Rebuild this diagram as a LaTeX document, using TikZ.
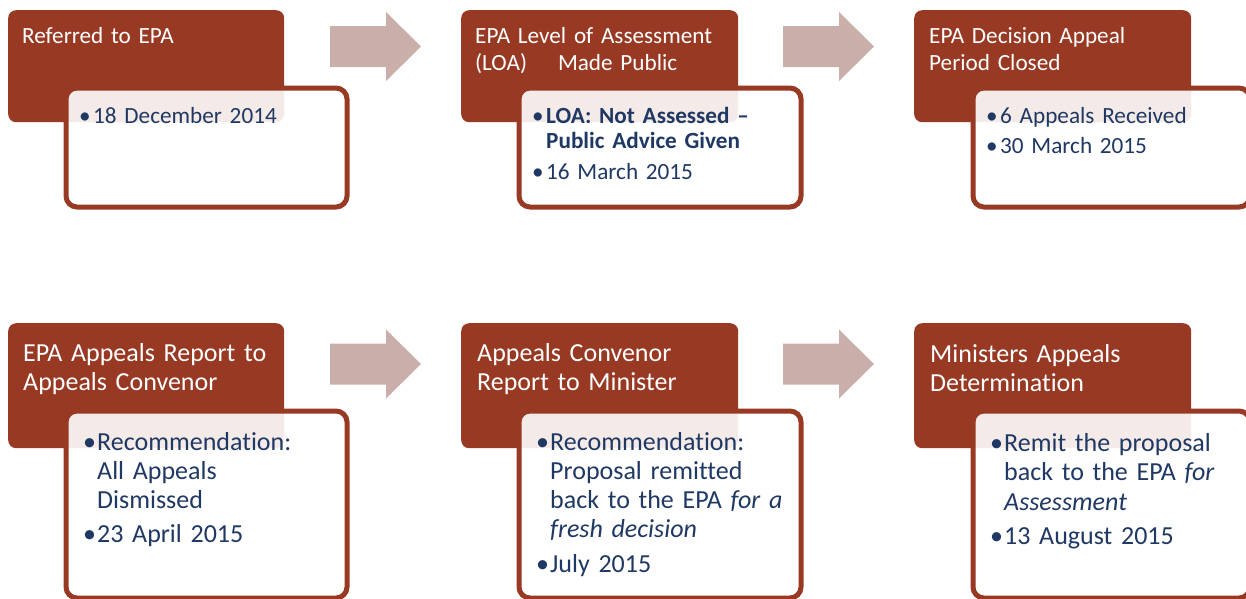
\documentclass[tikz,border=0pt]{standalone}
\usepackage{fontspec}
\setmainfont{Carlito}[Ligatures={NoCommon}]
\definecolor{brick}{RGB}{152,57,36}
\definecolor{flowpink}{RGB}{201,174,169}
\definecolor{navy}{RGB}{31,56,100}
% bullet with a fixed hanging width, and the matching indent for wrapped lines
\newcommand\bul{\makebox[14pt][l]{\textbullet}}
\newcommand\hang{\hspace*{14pt}}
\begin{document}
\begin{tikzpicture}[x=1pt,y=-1pt,
  hdrbox/.style={fill=brick, rounded corners=8pt, inner sep=0, anchor=north west},
  detbox/.style={draw=brick, line width=5pt, fill=white, fill opacity=0.9, draw opacity=1,
                 rounded corners=11pt, inner sep=0, anchor=north west},
  hdrtop/.style={anchor=base west, inner sep=0, text=white, align=left, text width=270pt,
                 font=\fontsize{23.2}{27}\selectfont},
  hdrbot/.style={anchor=base west, inner sep=0, text=white, align=left, text width=270pt,
                 font=\fontsize{26}{29}\selectfont},
  bodytop/.style={anchor=base west, inner sep=0, text=navy, align=left, text width=270pt,
                 font=\fontsize{23.2}{25.6}\selectfont},
  bodybot/.style={anchor=base west, inner sep=0, text=navy, align=left, text width=270pt,
                 font=\fontsize{26}{29.3}\selectfont},
  blockarrow/.pic={\fill[flowpink] (0,-20.5) -- (56,-20.5) -- (56,-34.5) -- (91,0)
                     -- (56,34.5) -- (56,20.5) -- (0,20.5) -- cycle;}
]
\useasboundingbox (0,0) rectangle (1246,598);
\clip (0,0) rectangle (1246,598);

% ---------- first row ----------
\node[hdrbox, minimum width=276pt, minimum height=112pt] (h1) at (8,10) {};
\node[hdrbox, minimum width=277pt, minimum height=112pt] (h2) at (461,10) {};
\node[hdrbox, minimum width=277pt, minimum height=112pt] (h3) at (914,10) {};

\node[detbox, minimum width=281pt, minimum height=119pt] (d1) at (63.5,85.5) {};
\node[detbox, minimum width=282pt, minimum height=119pt] (d2) at (516.5,85.5) {};
\node[detbox, minimum width=277pt, minimum height=119pt] (d3) at (970.5,85.5) {};

\node[hdrtop] (t1) at (22,43) {Referred to EPA};
\node[hdrtop] (t2) at (475,43) {EPA Level of Assessment\\(LOA)\hspace*{31pt}Made Public};
\node[hdrtop] (t3) at (929,43) {EPA Decision Appeal\\Period Closed};

\node[bodytop] (b1) at (79,123) {\bul 18 December 2014};
\node[bodytop] (b2) at (532,123) {\bul\textbf{LOA: Not Assessed –}\\\hang\textbf{Public Advice Given}\\[5pt]\bul 16 March 2015};
\node[bodytop] (b3) at (986,123) {\bul 6 Appeals Received\\[5pt]\bul 30 March 2015};

\pic at (330,46.5) {blockarrow};
\pic at (783,46.5) {blockarrow};

% ---------- second row ----------
\node[hdrbox, minimum width=276pt, minimum height=125pt] (h4) at (8,323) {};
\node[hdrbox, minimum width=277pt, minimum height=125pt] (h5) at (461,323) {};
\node[hdrbox, minimum width=277pt, minimum height=125pt] (h6) at (914,323) {};

\node[detbox, minimum width=281pt, minimum height=187pt] (d4) at (63.5,408.5) {};
\node[detbox, minimum width=282pt, minimum height=187pt] (d5) at (516.5,408.5) {};
\node[detbox, minimum width=277pt, minimum height=187pt] (d6) at (970.5,408.5) {};

\node[hdrbot] (t4) at (23,361) {EPA Appeals Report to\\Appeals Convenor};
\node[hdrbot] (t5) at (477,361) {Appeals Convenor\\Report to Minister};
\node[hdrbot] (t6) at (930,362) {Ministers Appeals\\Determination};

\node[bodybot] (b4) at (83,450) {\bul Recommendation:\\\hang All Appeals\\\hang Dismissed\\[5pt]\bul 23 April 2015};
\node[bodybot] (b5) at (536,450) {\bul Recommendation:\\\hang Proposal remitted\\\hang back to the EPA \textit{for a}\\\hang\textit{fresh decision}\\[5pt]\bul July 2015};
\node[bodybot] (b6) at (990,451.5) {\bul Remit the proposal\\\hang back to the EPA \textit{for}\\\hang\textit{Assessment}\\[5pt]\bul 13 August 2015};

\pic at (330,364) {blockarrow};
\pic at (783,364) {blockarrow};
\end{tikzpicture}
\end{document}
